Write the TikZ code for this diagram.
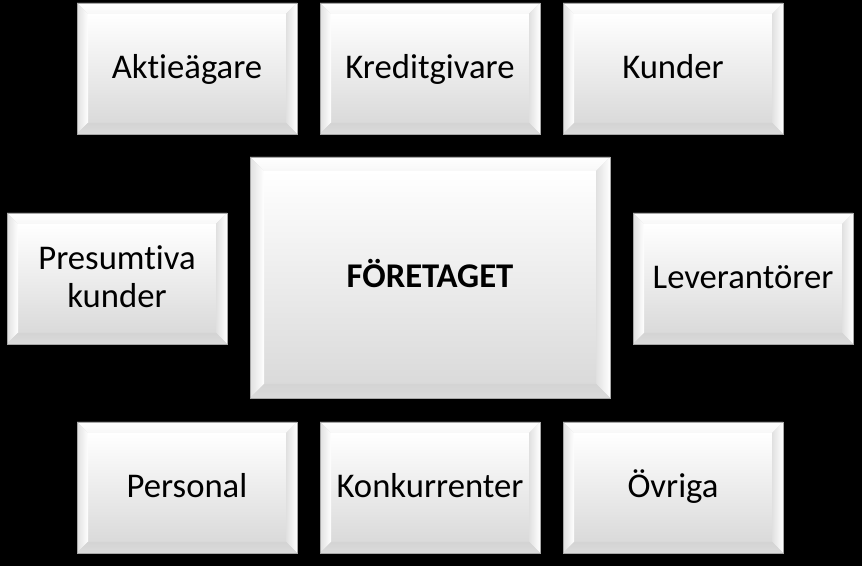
\documentclass[tikz,border=0pt]{standalone}
\usepackage{fontspec}
\setmainfont{Carlito}[Ligatures=NoCommon]
\definecolor{facebot}{HTML}{DADADA}
\definecolor{bevgrey}{HTML}{D0D0D0}
\definecolor{edgegrey}{HTML}{A8A8A8}
\tikzset{
  boxlabel/.style={align=center, font=\fontsize{26}{28.5}\selectfont, text=black, inner sep=0pt, yshift=-1.5pt},
}
% \bevbox{name}{x1}{y1}{x2}{y2}{bevel}{text}  (y up, pixel units)
\newcommand{\bevbox}[7]{%
  \fill[bevgrey] (#2,#3) rectangle (#4,#5);
  % face
  \shade[top color=white, bottom color=facebot] (#2+#6,#3+#6) rectangle (#4-#6,#5-#6);
  % top bevel
  \shade[top color=white, bottom color=white!97!black] (#2,#5) -- (#4,#5) -- (#4-#6,#5-#6) -- (#2+#6,#5-#6) -- cycle;
  % left bevel
  \shade[left color=white!88!black, right color=white] (#2,#3) -- (#2,#5) -- (#2+#6,#5-#6) -- (#2+#6,#3+#6) -- cycle;
  % right bevel
  \shade[left color=white!88!black, right color=white] (#4,#3) -- (#4,#5) -- (#4-#6,#5-#6) -- (#4-#6,#3+#6) -- cycle;
  % bottom bevel
  \shade[top color=white!83!black, bottom color=white!86!black] (#2,#3) -- (#4,#3) -- (#4-#6,#3+#6) -- (#2+#6,#3+#6) -- cycle;
  \draw[edgegrey, line width=0.5pt] (#2,#3) rectangle (#4,#5);
  \node[boxlabel] (#1) at ({(#2+#4)/2},{(#3+#5)/2}) {#7};
}
\begin{document}
\begin{tikzpicture}[x=0.75pt,y=0.75pt]
\fill[black] (0,0) rectangle (862,566);
\useasboundingbox (0,0) rectangle (862,566);
% top row
\bevbox{akt}{77}{432}{297}{563}{11}{Aktieägare\strut}
\bevbox{kre}{320}{432}{540}{563}{11}{Kreditgivare\strut}
\bevbox{kun}{563}{432}{783}{563}{11}{Kunder\strut}
% middle row
\bevbox{pre}{7}{222}{227}{353}{11}{Presumtiva\strut\\kunder\strut}
\bevbox{for}{250}{168}{610}{409}{14}{\textbf{FÖRETAGET}\strut}
\bevbox{lev}{633}{222}{853}{353}{11}{Leverantörer\strut}
% bottom row
\bevbox{per}{77}{13}{297}{144}{11}{Personal\strut}
\bevbox{kon}{320}{13}{540}{144}{11}{Konkurrenter\strut}
\bevbox{ovr}{563}{13}{783}{144}{11}{Övriga\strut}
\end{tikzpicture}
\end{document}
